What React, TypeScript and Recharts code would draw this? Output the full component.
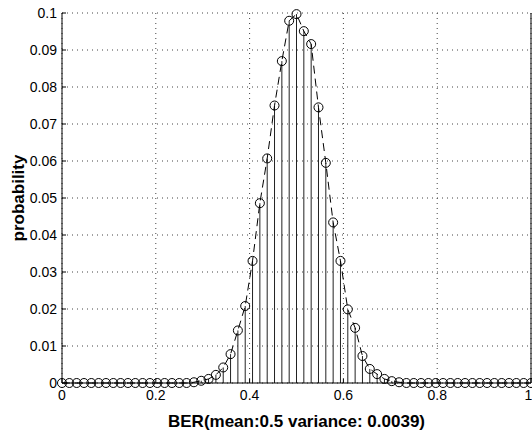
import { ComposedChart, Line, XAxis, YAxis, CartesianGrid, ReferenceLine } from 'recharts'

// 64-bit frames -> BER steps of 1/64
const bitsPerFrame = 64

// probability of each BER value (k = 0..64)
const probability = [
  0, 0, 0, 0, 0, 0, 0, 0, 0, 0,
  0, 0, 0, 0, 0, 0, 0, 0, 0.0002, 0.0006,
  0.0011, 0.0022, 0.0042, 0.0078, 0.0142, 0.0208, 0.033, 0.0486, 0.0607, 0.075,
  0.087, 0.0979, 0.0997, 0.0951, 0.0916, 0.0745, 0.0595, 0.0434, 0.033, 0.0199,
  0.0149, 0.0073, 0.0038, 0.0024, 0.0011, 0.0005, 0.0002, 0, 0, 0,
  0, 0, 0, 0, 0, 0, 0, 0, 0, 0,
  0, 0, 0, 0, 0,
]

const xTicks = [0, 0.2, 0.4, 0.6, 0.8, 1]
const yTicks = [0, 0.01, 0.02, 0.03, 0.04, 0.05, 0.06, 0.07, 0.08, 0.09, 0.1]

const data = probability.map((p, i) => ({ ber: i / bitsPerFrame, p }))

const tickStyle = { fill: '#000', fontSize: 14 }
const titleStyle = { fill: '#000', fontSize: 17, fontWeight: 'bold' as const }

export default function App() {
  return (
    <div style={{ position: 'absolute', left: 0, top: 0, background: '#fff', fontFamily: '"Liberation Sans", Arial, sans-serif' }}>
      <ComposedChart width={532} height={432} data={data} margin={{ top: 13, right: 0, bottom: 0, left: 0 }}>
        <CartesianGrid stroke="#444" strokeDasharray="1 4" />
        <XAxis
          dataKey="ber"
          type="number"
          domain={[0, 1]}
          ticks={xTicks}
          tick={tickStyle}
          tickSize={-4}
          tickMargin={11}
          height={49}
          stroke="#000"
          label={{ value: 'BER(mean:0.5 variance: 0.0039)', position: 'insideBottom', offset: 5, style: titleStyle }}
        />
        <XAxis xAxisId="top" orientation="top" type="number" domain={[0, 1]} ticks={xTicks} tick={false} tickSize={-4} height={0} stroke="#000" />
        <YAxis
          type="number"
          domain={[0, 0.1]}
          ticks={yTicks}
          tick={tickStyle}
          tickSize={-4}
          tickMargin={9}
          width={62}
          stroke="#000"
          label={{ value: 'probability', angle: -90, position: 'insideLeft', offset: 18, style: { ...titleStyle, textAnchor: 'middle' } }}
        />
        <YAxis yAxisId="right" orientation="right" type="number" domain={[0, 0.1]} ticks={yTicks} tick={false} tickSize={-4} width={1} stroke="#000" />
        {data.map((d, i) => (
          <ReferenceLine
            key={`stem-${i}`}
            segment={[{ x: d.ber, y: 0 }, { x: d.ber, y: d.p }]}
            stroke="#222"
            strokeWidth={1}
          />
        ))}
        <Line
          dataKey="p"
          stroke="#000"
          strokeWidth={1}
          strokeDasharray="8 5"
          isAnimationActive={false}
          dot={(props: any) => (
            <circle key={`dot-${props.index}`} cx={props.cx} cy={props.cy} r={4.5} fill="none" stroke="#000" strokeWidth={1} />
          )}
          activeDot={false}
        />
      </ComposedChart>
    </div>
  )
}
